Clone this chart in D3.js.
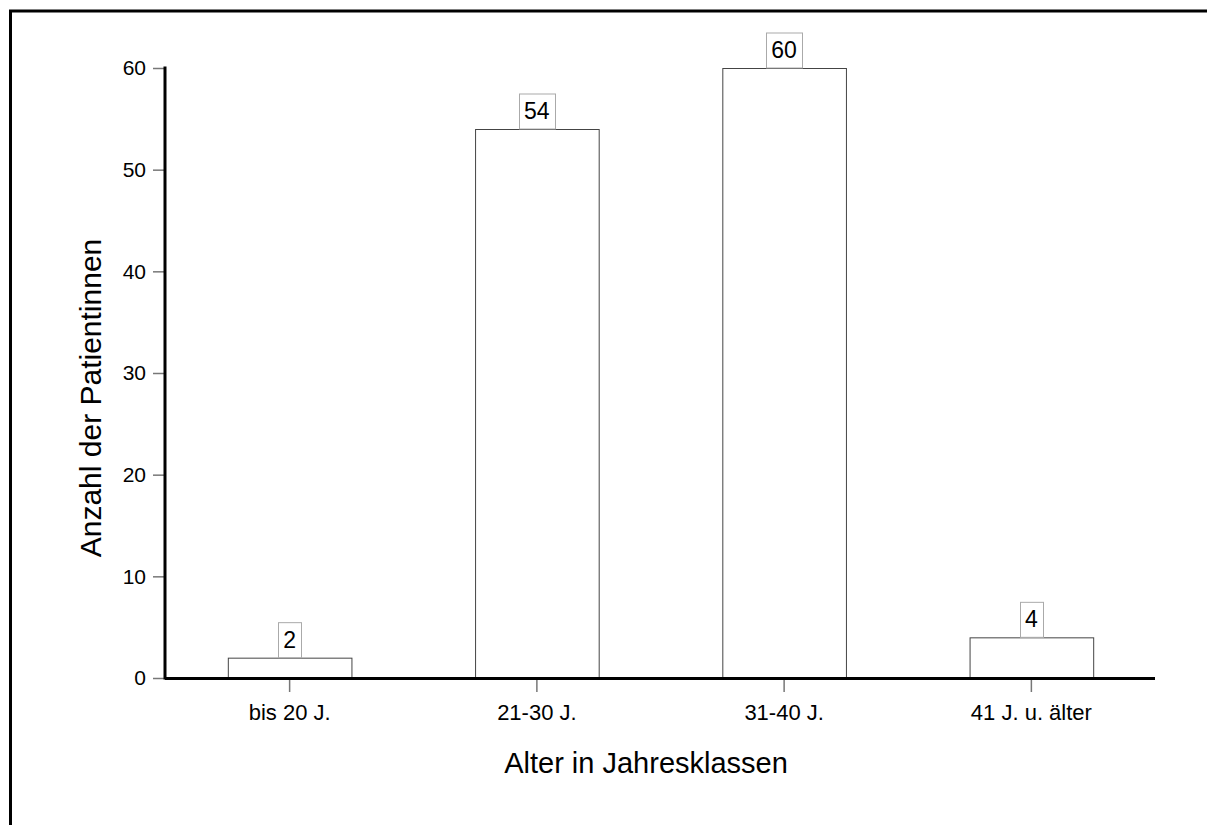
<!DOCTYPE html>
<html><head><meta charset="utf-8">
<script src="https://cdn.jsdelivr.net/npm/d3@7"></script>
<style>body{margin:0;background:#fff}svg{display:block}text{font-family:"Liberation Sans",Arial,sans-serif}</style>
</head><body>
<svg id="c" width="1207" height="825"></svg>
<script>
const categories = ["bis 20 J.", "21-30 J.", "31-40 J.", "41 J. u. älter"];
const values = [2, 54, 60, 4];
const yTicks = [0, 10, 20, 30, 40, 50, 60];

const svg = d3.select("#c");
// frame
svg.append("path").attr("d","M10.5,825 V11 H1207").attr("fill","none").attr("stroke","#000").attr("stroke-width",3);

const x = d3.scaleBand().domain(categories).range([166,1155]).padding(0.5).paddingOuter(0.25);
const y = d3.scaleLinear().domain([0,60]).range([678,68]);

// y axis
const ya = svg.append("g").attr("transform","translate(166,0)").call(d3.axisLeft(y).tickValues(yTicks).tickSize(13).tickPadding(7).tickFormat(d3.format("d")));
ya.select(".domain").remove();
ya.selectAll(".tick line").attr("stroke","#777").attr("stroke-width",1.5);
ya.selectAll(".tick text").attr("font-size",21).attr("fill","#000").attr("font-family","Liberation Sans, Arial, sans-serif");
svg.append("line").attr("x1",165).attr("x2",165).attr("y1",66.5).attr("y2",679.5).attr("stroke","#000").attr("stroke-width",3);

// bars
svg.selectAll("rect.bar").data(values).join("rect").attr("class","bar")
  .attr("x",(d,i)=>x(categories[i])+0.5).attr("y",d=>y(d)+0.5)
  .attr("width",x.bandwidth()).attr("height",d=>y(0)-y(d))
  .attr("fill","#fff").attr("stroke","#444").attr("stroke-width",1);

// x axis
const xa = svg.append("g").attr("transform","translate(0,679)").call(d3.axisBottom(x).tickSize(13).tickPadding(12));
xa.select(".domain").remove();
xa.selectAll(".tick line").attr("stroke","#777").attr("stroke-width",1.5);
xa.selectAll(".tick text").attr("font-size",22).attr("fill","#000").attr("font-family","Liberation Sans, Arial, sans-serif");
svg.append("line").attr("x1",165).attr("x2",1155).attr("y1",678.5).attr("y2",678.5).attr("stroke","#000").attr("stroke-width",3);

// value labels
const lbl = svg.selectAll("g.lbl").data(values).join("g").attr("class","lbl");
lbl.each(function(d,i){
  const g = d3.select(this);
  const cx = x(categories[i]) + x.bandwidth()/2;
  const top = y(d);
  const t = g.append("text").attr("x",cx).attr("y",top-10).attr("text-anchor","middle").attr("font-size",23).text(d);
  const w = t.node().getComputedTextLength();
  g.insert("rect","text").attr("x",Math.round(cx - w/2 - 5)+0.5).attr("y",top-35).attr("width",Math.round(w+10)).attr("height",35)
    .attr("fill","#fff").attr("stroke","#aaa").attr("stroke-width",1);
});

// titles
svg.append("text").attr("x",646).attr("y",773).attr("text-anchor","middle").attr("font-size",29).text("Alter in Jahresklassen");
svg.append("text").attr("transform","translate(101,398) rotate(-90)").attr("text-anchor","middle").attr("font-size",30).text("Anzahl der Patientinnen");
</script>
</body></html>
